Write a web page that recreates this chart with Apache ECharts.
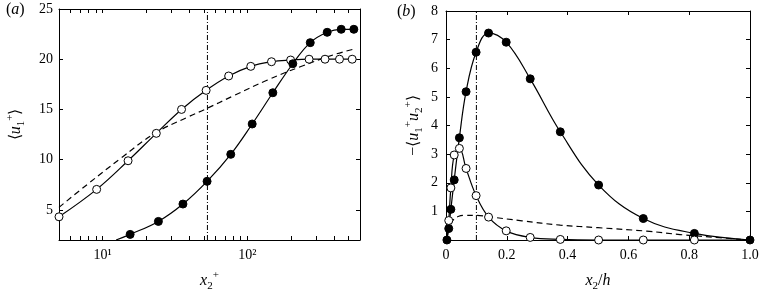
<!DOCTYPE html>
<html>
<head>
<meta charset="utf-8">
<script src="https://cdn.jsdelivr.net/npm/echarts@6/dist/echarts.min.js"></script>
<style>
  html, body { margin: 0; padding: 0; background: #fff; }
  #chart { width: 762px; height: 297px; }
</style>
</head>
<body>
<div id="chart"></div>
<script>
// (a) mean velocity profiles, x2+ on a log axis
const aOpenX = [5, 9.1, 15.0, 23.5, 35.1, 51.9, 74.3, 105.6, 146.8, 199, 267, 344, 433, 530];
const aOpenY = [4.31, 7.04, 9.89, 12.62, 15.0, 16.9, 18.33, 19.29, 19.75, 19.92, 20.0, 20.0, 20.0, 20.0];
const aFullX = [12.4, 15.5, 24.3, 35.9, 52.7, 76.8, 108, 150, 206, 272, 356, 445, 544];
const aFullY = [2.0, 2.56, 3.85, 5.58, 7.84, 10.53, 13.55, 16.66, 19.55, 21.65, 22.68, 22.98, 22.98];
const aDashX = [5, 7.87, 13.4, 22.8, 38.9, 50.8, 80, 136.5, 232, 395, 544];
const aDashY = [5.25, 7.55, 10.15, 12.6, 14.25, 15.0, 16.35, 17.9, 19.25, 20.45, 21.0];
const aMarkX = 53;

// (b) Reynolds shear stress, x2/h
const bFullX = [0.003, 0.009, 0.016, 0.027, 0.044, 0.066, 0.099, 0.14, 0.198, 0.277, 0.376, 0.502, 0.649, 0.817, 1.0];
const bFullY = [0.0, 0.4, 1.07, 2.1, 3.57, 5.18, 6.56, 7.23, 6.91, 5.63, 3.78, 1.92, 0.75, 0.23, 0.0];
const bOpenX = [0.003, 0.009, 0.016, 0.027, 0.044, 0.066, 0.099, 0.14, 0.198, 0.277, 0.376, 0.502, 0.649, 0.817, 1.0];
const bOpenY = [0.0, 0.68, 1.82, 2.97, 3.2, 2.5, 1.55, 0.8, 0.32, 0.09, 0.02, 0.0, 0.0, 0.0, 0.0];
const bDashX = [0.016, 0.025, 0.04, 0.06, 0.1, 0.15, 0.25, 0.376, 0.5, 0.66, 0.77, 0.9, 0.97];
const bDashY = [0.55, 0.72, 0.82, 0.86, 0.86, 0.8, 0.67, 0.52, 0.43, 0.31, 0.19, 0.08, 0.02];
const bMarkX = 0.1;

const logTicks = [6, 7, 8, 9, 10, 20, 30, 40, 50, 60, 70, 80, 90, 100, 200, 300, 400, 500];
const logLabels = [10, 100];
const aYTicks = [5, 10, 15, 20, 25];

const serif = 'Liberation Serif';

const zip = (xs, ys) => xs.map((x, i) => [x, ys[i]]);

const richName = {
  i: { fontFamily: serif, fontSize: 16, fontStyle: 'italic', lineHeight: 22, color: '#000' },
  r: { fontFamily: serif, fontSize: 16, lineHeight: 22, color: '#000' },
  sub: { fontFamily: serif, fontSize: 11, lineHeight: 12, verticalAlign: 'bottom', color: '#000' },
  sup: { fontFamily: serif, fontSize: 11, lineHeight: 12, verticalAlign: 'top', color: '#000' }
};

const tickLabel = { fontFamily: serif, fontSize: 14, color: '#000' };

function axisBase(extra) {
  return Object.assign({
    axisLine: { show: true, onZero: false, lineStyle: { color: '#000', width: 1 } },
    axisTick: { show: true, inside: true, length: 4, lineStyle: { color: '#000', width: 1 } },
    splitLine: { show: false },
    axisLabel: Object.assign({ show: false }, tickLabel)
  }, extra);
}

const mk = (xIdx, yIdx, data, open, name) => ({
  type: 'line',
  name: name,
  xAxisIndex: xIdx,
  yAxisIndex: yIdx,
  data: data,
  smooth: 0.4,
  symbol: 'circle',
  symbolSize: 8,
  showAllSymbol: true,
  lineStyle: { color: '#000', width: 1.2 },
  itemStyle: open
    ? { color: '#fff', borderColor: '#000', borderWidth: 1 }
    : { color: '#000', borderColor: '#000', borderWidth: 1 },
  z: open ? 3 : 4
});

const dashed = (xIdx, yIdx, data) => ({
  type: 'line', xAxisIndex: xIdx, yAxisIndex: yIdx, data: data,
  smooth: 0.4, symbol: 'none',
  lineStyle: { color: '#000', width: 1.2, type: [6, 4] }, z: 2
});

const vmark = (xIdx, yIdx, x, y0, y1) => ({
  type: 'line', xAxisIndex: xIdx, yAxisIndex: yIdx,
  data: [[x, y0], [x, y1]], symbol: 'none',
  lineStyle: { color: '#000', width: 1, type: [5, 2, 1, 2] }, z: 1
});

const aFull = zip(aFullX, aFullY);
aFull[0] = { value: aFull[0], symbol: 'none' };
const bOpen = zip(bOpenX, bOpenY);
bOpen[0] = { value: bOpen[0], symbol: 'none' };
bOpen[bOpen.length - 1] = { value: bOpen[bOpen.length - 1], symbol: 'none' };

const myChart = echarts.init(document.getElementById('chart'));
const option = {
  animation: false,
  backgroundColor: '#fff',
  grid: [
    { left: 59, top: 9, width: 301, height: 231 },
    { left: 446, top: 11, width: 304, height: 232 }
  ],
  graphic: [
    { type: 'text', left: 6, top: 2, style: { text: '({i|a})', font: '16px ' + serif, fill: '#000',
      rich: { i: { fontFamily: serif, fontSize: 16, fontStyle: 'italic' } } } },
    { type: 'text', left: 397, top: 4, style: { text: '({i|b})', font: '16px ' + serif, fill: '#000',
      rich: { i: { fontFamily: serif, fontSize: 16, fontStyle: 'italic' } } } }
  ],
  xAxis: [
    axisBase({
      gridIndex: 0, type: 'log', logBase: 10, min: 5, max: 600, position: 'bottom',
      axisTick: { show: true, inside: true, length: 4, customValues: logTicks, lineStyle: { color: '#000' } },
      axisLabel: Object.assign({ show: true, margin: 8, customValues: logLabels,
        formatter: v => (Math.round(v) === 10 ? '10¹' : '10²') }, tickLabel),
      name: '{i|x}{sub|2}{sup|+}', nameLocation: 'middle', nameGap: 30,
      nameTextStyle: { rich: richName }
    }),
    axisBase({
      gridIndex: 0, type: 'log', logBase: 10, min: 5, max: 600, position: 'top',
      axisTick: { show: true, inside: true, length: 4, customValues: logTicks, lineStyle: { color: '#000' } }
    }),
    axisBase({
      gridIndex: 1, type: 'value', min: 0, max: 1, interval: 0.2, position: 'bottom',
      axisLabel: Object.assign({ show: true, margin: 8,
        formatter: v => (v === 0 ? '0' : v.toFixed(1)) }, tickLabel),
      name: '{i|x}{sub|2}{r|/}{i|h}', nameLocation: 'middle', nameGap: 30,
      nameTextStyle: { rich: richName }
    }),
    axisBase({ gridIndex: 1, type: 'value', min: 0, max: 1, interval: 0.2, position: 'top' })
  ],
  yAxis: [
    axisBase({
      gridIndex: 0, type: 'value', min: 2, max: 25, position: 'left',
      axisTick: { show: true, inside: true, length: 4, customValues: aYTicks, lineStyle: { color: '#000' } },
      axisLabel: Object.assign({ show: true, margin: 6, customValues: aYTicks }, tickLabel),
      name: '{r|⟨}{i|u}{sub|1}{sup|+}{r|⟩}', nameLocation: 'middle', nameGap: 32, nameRotate: 90,
      nameTextStyle: { rich: richName }
    }),
    axisBase({
      gridIndex: 0, type: 'value', min: 2, max: 25, position: 'right',
      axisTick: { show: true, inside: true, length: 4, customValues: aYTicks, lineStyle: { color: '#000' } }
    }),
    axisBase({
      gridIndex: 1, type: 'value', min: 0, max: 8, interval: 1, position: 'left',
      axisLabel: Object.assign({ show: true, margin: 8, formatter: v => (v === 0 ? '' : String(v)) }, tickLabel),
      name: '{r|−⟨}{i|u}{sub|1}{sup|+}{i|u}{sub|2}{sup|+}{r|⟩}', nameLocation: 'middle', nameGap: 21, nameRotate: 90,
      nameTextStyle: { rich: richName }
    }),
    axisBase({ gridIndex: 1, type: 'value', min: 0, max: 8, interval: 1, position: 'right' })
  ],
  series: [
    vmark(0, 0, aMarkX, 2, 25),
    dashed(0, 0, zip(aDashX, aDashY)),
    mk(0, 0, zip(aOpenX, aOpenY), true, 'open a'),
    mk(0, 0, aFull, false, 'filled a'),
    vmark(2, 2, bMarkX, 0, 8),
    dashed(2, 2, zip(bDashX, bDashY)),
    mk(2, 2, zip(bFullX, bFullY), false, 'filled b'),
    Object.assign(mk(2, 2, bOpen, true, 'open b'), { z: 5 })
  ]
};
myChart.setOption(option);
window.addEventListener('resize', function () {
  myChart.resize();
});
</script>
</body>
</html>
